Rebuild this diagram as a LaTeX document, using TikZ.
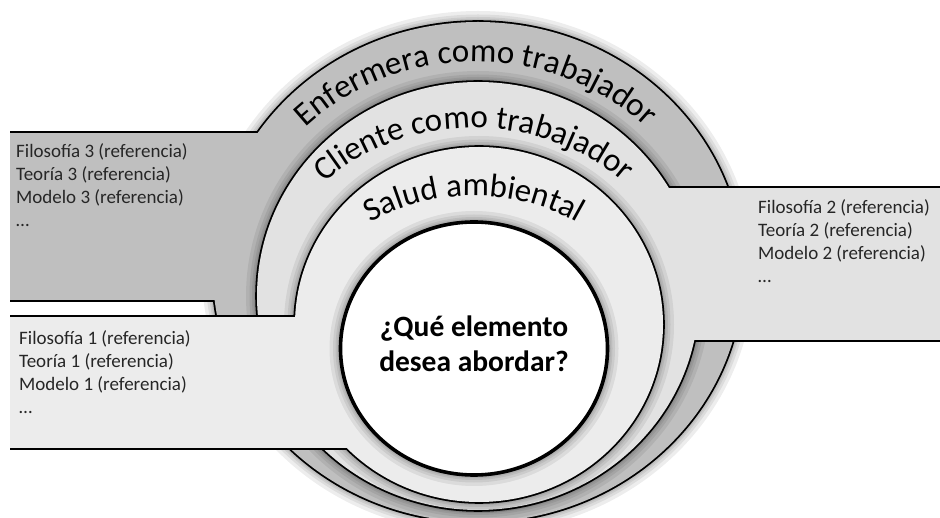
\documentclass[tikz,border=0pt]{standalone}
\usepackage{fontspec}
\setmainfont{Carlito}
\usetikzlibrary{decorations.text}
\definecolor{ringdark}{HTML}{BFBFBF}
\definecolor{ringmid}{HTML}{E2E2E2}
\definecolor{ringlight}{HTML}{ECECEC}

\begin{document}
\begin{tikzpicture}[x=1pt, y=1pt,
    rim/.style={line width=3.6pt},
    halo/.style={preaction={draw=black, draw opacity=0.07, line width=22pt},
                 preaction={draw=black, draw opacity=0.07, line width=15pt},
                 preaction={draw=black, draw opacity=0.07, line width=10pt},
                 preaction={draw=black, draw opacity=0.07, line width=6.5pt}},
    reftext/.style={anchor=north west, inner sep=0pt, align=left, text=black!85, font=\fontsize{19}{23}\selectfont},
    arctext/.style={decorate, decoration={text along path, text align=center, text={|\fontsize{33}{38}\selectfont|#1}}}]
  \useasboundingbox (0,0) rectangle (940,-518);

  \draw[halo, rim] (478,-272) ellipse [x radius=265pt, y radius=250pt];
  \draw[rim] (10,-133) -- (300,-133) (10,-300) -- (300,-300);
  \fill[ringdark] (478,-272) ellipse [x radius=265pt, y radius=250pt];
  \fill[ringdark] (10,-133) rectangle (300,-300);

  \draw[halo, rim] (478,-296) ellipse [x radius=221pt, y radius=214pt];
  \draw[rim] (600,-188) -- (945,-188) (600,-340) -- (945,-340);
  \fill[ringmid] (478,-296) ellipse [x radius=221pt, y radius=214pt];
  \fill[ringmid] (600,-188) rectangle (945,-340);

  \draw[halo, rim] (479,-324.5) ellipse [x radius=184pt, y radius=177.5pt];
  \draw[rim] (10,-317) -- (400,-317) (10,-448) -- (400,-448);
  \fill[ringlight] (479,-324.5) ellipse [x radius=184pt, y radius=177.5pt];
  \fill[ringlight] (10,-317) rectangle (400,-448);

  \draw[halo, rim, fill=white] (474,-348.5) ellipse [x radius=133.5pt, y radius=126.5pt];

  \path[arctext={Enfermera como trabajador}] (476,-284) ++(170:240pt and 222pt)
    arc [start angle=170, end angle=10, x radius=240pt, y radius=222pt];
  \path[arctext={Cliente como trabajador}] (474,-310) ++(170:210pt and 182pt)
    arc [start angle=170, end angle=10, x radius=210pt, y radius=182pt];
  \path[arctext={Salud ambiental}] (474,-325) ++(170:170pt and 129pt)
    arc [start angle=170, end angle=10, x radius=170pt, y radius=129pt];

  \node[reftext] (f3) at (16,-143) {Filosofía 3 (referencia)\\Teoría 3 (referencia)\\Modelo 3 (referencia)\\…};
  \node[reftext] (f2) at (758,-199) {Filosofía 2 (referencia)\\Teoría 2 (referencia)\\Modelo 2 (referencia)\\…};
  \node[reftext] (f1) at (19,-330) {Filosofía 1 (referencia)\\Teoría 1 (referencia)\\Modelo 1 (referencia)\\…};
  \node[font=\fontsize{29.5}{34.5}\selectfont\bfseries, align=center] (q) at (474,-344) {¿Qué elemento\\desea abordar?};
\end{tikzpicture}
\end{document}
